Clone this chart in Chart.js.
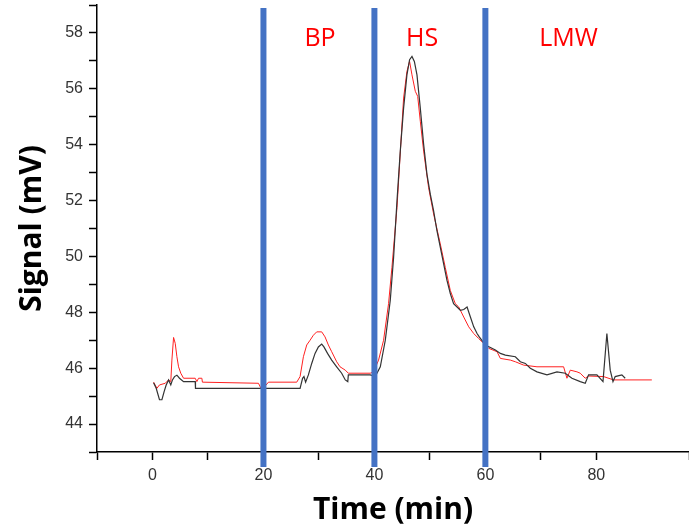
<!DOCTYPE html>
<html>
<head>
<meta charset="utf-8">
<script src="https://cdn.jsdelivr.net/npm/chart.js@4"></script>
<style>
  html, body { margin: 0; padding: 0; background: #fff; }
  #wrap { width: 689px; height: 531px; }
</style>
</head>
<body>
<div id="wrap"><canvas id="chromChart" width="689" height="531"></canvas></div>
<script>
// black trace
const blackTime = [0.2, 0.67, 1.26, 1.7, 2.1, 2.47, 2.9, 3.3, 3.6, 3.97, 4.4, 4.87, 5.6, 7.7, 7.75,
    26.6, 27.05, 27.3, 27.6, 28.1, 28.7, 29.3, 29.9, 30.5, 30.9, 31.55, 32.3, 33.2, 34.1, 34.75, 35.2, 35.3, 39.25,
    40.15, 41.06, 41.96, 42.86, 43.46, 44.07, 44.66, 45.26, 45.86, 46.34, 46.77, 47.2, 47.67, 48.27, 48.87, 49.47,
    50.07, 50.67, 51.27, 51.87, 52.47, 53.08, 53.68, 54.27, 54.9, 55.5, 56.1, 56.7, 57.3, 57.9, 58.5, 58.9,
    60.0, 61.8, 62.7, 63.6, 65.4, 66.3, 67.2, 68.1, 69.3, 71.1, 72.9, 74.4, 75.6, 77.1, 78.0, 78.6, 80.1,
    81.2, 81.9, 82.5, 83.0, 83.4, 84.6, 85.2];
const blackSignal = [45.48, 45.28, 44.87, 44.87, 45.16, 45.4, 45.58, 45.4, 45.58, 45.7, 45.75, 45.64, 45.52, 45.52, 45.28,
    45.28, 45.64, 45.7, 45.5, 45.76, 46.17, 46.53, 46.76, 46.86, 46.76, 46.53, 46.29, 46.05, 45.82, 45.58, 45.52, 45.76, 45.76,
    45.7, 46.05, 47.0, 48.43, 49.97, 51.99, 53.77, 55.31, 56.5, 57.04, 57.16, 56.98, 56.5, 55.31, 54.01, 52.94,
    52.23, 51.63, 50.92, 50.33, 49.74, 49.14, 48.67, 48.31, 48.19, 48.07, 48.1, 48.19, 47.83, 47.48, 47.24, 47.12,
    46.83, 46.65, 46.53, 46.47, 46.41, 46.23, 46.17, 46.0, 45.87, 45.76, 45.87, 45.82, 45.64, 45.52, 45.46, 45.76, 45.76,
    45.52, 47.24, 45.93, 45.52, 45.7, 45.76, 45.64];

// red trace
const redTime = [0.2, 0.8, 1.26, 2.3, 2.9, 3.3, 3.5, 3.8, 4.1, 4.4, 4.7, 5.1, 5.6, 7.7, 8.0, 8.3, 8.9, 9.0,
    19.1, 19.7, 20.9, 26.0, 26.6, 27.2, 27.8, 28.4, 29.0, 29.6, 30.5, 31.1, 31.7, 32.3, 33.2, 33.8, 34.75, 35.3, 39.25,
    39.85, 40.75, 41.65, 42.55, 43.16, 44.07, 44.79, 45.26, 45.86, 46.34, 46.77, 47.37, 47.8, 48.27, 48.87, 49.77,
    50.67, 51.87, 52.77, 53.68, 54.58, 55.2, 56.1, 57.0, 57.9, 58.8, 60.0, 60.6, 62.1, 62.7, 64.5, 65.4, 66.9, 69.3,
    74.1, 74.7, 75.3, 76.5, 77.1, 78.0, 78.6, 81.3, 83.1, 90.0];
const redSignal = [45.5, 45.28, 45.4, 45.46, 45.58, 45.52, 46.29, 47.1, 46.89, 46.41, 46.05, 45.82, 45.64, 45.64, 45.52, 45.64, 45.64, 45.5,
    45.46, 45.22, 45.5, 45.5, 45.7, 46.41, 46.83, 47.0, 47.18, 47.3, 47.3, 47.12, 46.83, 46.59, 46.23, 46.05, 45.93, 45.82, 45.82,
    45.87, 46.29, 47.0, 48.31, 49.61, 51.75, 54.13, 55.67, 56.62, 56.98, 56.5, 55.91, 55.73, 54.84, 53.77, 52.46,
    51.52, 50.45, 49.61, 48.78, 48.31, 48.19, 47.83, 47.48, 47.24, 47.06, 46.83, 46.71, 46.59, 46.35, 46.29, 46.23, 46.11, 46.05,
    46.05, 45.64, 45.93, 45.87, 45.82, 45.64, 45.72, 45.7, 45.58, 45.58];

// fraction boundaries and labels
const dividerTimes = [20, 40, 60];
const regionLabels = ["BP", "HS", "LMW"];
const regionLabelTimes = [30.2, 48.6, 75];
const regionLabelSignal = 57.8;

const toPoints = (xs, ys) => xs.map((x, i) => ({ x: x, y: ys[i] }));

const regionPlugin = {
    id: "regions",
    afterDatasetsDraw(chart) {
        const { ctx, scales: { x, y } } = chart;
        ctx.save();
        ctx.strokeStyle = "#4472C4";
        ctx.lineWidth = 6;
        dividerTimes.forEach(t => {
            const px = x.getPixelForValue(t);
            ctx.beginPath();
            ctx.moveTo(px, 8);
            ctx.lineTo(px, 467);
            ctx.stroke();
        });
        ctx.fillStyle = "#ff0000";
        ctx.font = "25px 'Open Sans', sans-serif";
        ctx.textAlign = "center";
        ctx.textBaseline = "middle";
        regionLabels.forEach((lbl, i) => {
            ctx.fillText(lbl, x.getPixelForValue(regionLabelTimes[i]), y.getPixelForValue(regionLabelSignal));
        });
        ctx.restore();
    }
};

new Chart(document.getElementById("chromChart"), {
    type: "line",
    data: {
        datasets: [{
            label: "black",
            data: toPoints(blackTime, blackSignal),
            borderColor: "#333333",
            borderWidth: 1.2,
            pointRadius: 0,
            tension: 0
        }, {
            label: "red",
            data: toPoints(redTime, redSignal),
            borderColor: "#ff2020",
            borderWidth: 1,
            pointRadius: 0,
            tension: 0
        }]
    },
    plugins: [regionPlugin],
    options: {
        responsive: false,
        animation: false,
        layout: { padding: { top: 5, right: 0, left: 0, bottom: 0 } },
        plugins: { legend: { display: false }, tooltip: { enabled: false } },
        scales: {
            x: {
                type: "linear",
                min: -10,
                max: 96.7,
                afterFit: s => { s.height = 79; s.paddingLeft = 0; s.paddingRight = 0; },
                border: { color: "#000", width: 1.5 },
                grid: { drawOnChartArea: false, tickLength: 8, tickColor: "#000", tickWidth: 1.5 },
                ticks: {
                    stepSize: 10,
                    padding: 6,
                    color: "#333",
                    font: { family: "'Liberation Sans', Arial, sans-serif", size: 16 },
                    callback: v => (v % 20 === 0 ? v : "")
                },
                title: {
                    display: true,
                    text: "Time (min)",
                    color: "#000",
                    padding: { top: 0, bottom: 3 },
                    font: { family: "'Open Sans', sans-serif", size: 30, weight: "bold" }
                }
            },
            y: {
                min: 43,
                max: 59,
                afterFit: s => { s.width = 97; s.paddingTop = 0; s.paddingBottom = 0; },
                border: { color: "#000", width: 1.5 },
                grid: { drawOnChartArea: false, tickLength: 8, tickColor: "#000", tickWidth: 1.5 },
                ticks: {
                    stepSize: 1,
                    padding: 6,
                    color: "#333",
                    font: { family: "'Liberation Sans', Arial, sans-serif", size: 16 },
                    callback: v => (v % 2 === 0 && v < 59 ? v : "")
                },
                title: {
                    display: true,
                    text: "Signal (mV)",
                    color: "#000",
                    padding: { top: 14, bottom: 0 },
                    font: { family: "'Open Sans', sans-serif", size: 30, weight: "bold" }
                }
            }
        }
    }
});
</script>
</body>
</html>
